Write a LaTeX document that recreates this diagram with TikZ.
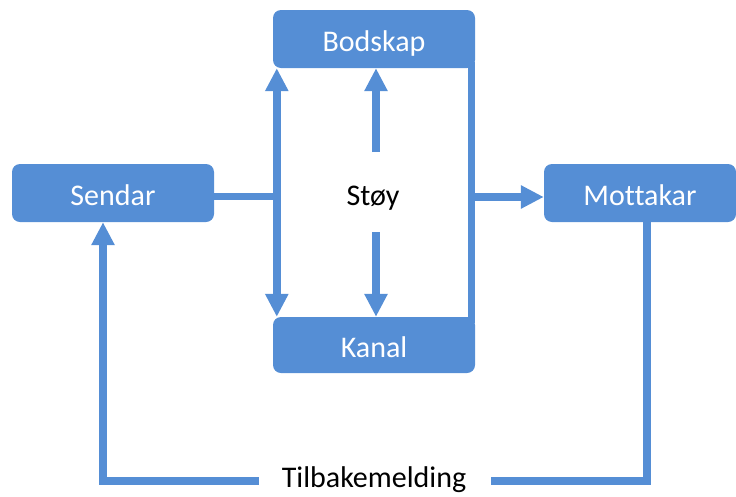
\documentclass[tikz,border=0pt]{standalone}
\usepackage{fontspec}
\setmainfont[Ligatures={NoCommon,NoRare}]{Carlito}
\usetikzlibrary{arrows.meta,calc}
\definecolor{boxblue}{RGB}{85,142,213}
\tikzset{
  box/.style={rectangle, rounded corners=8pt, fill=boxblue, draw=none, text=white,
    minimum width=202pt, minimum height=58pt, inner sep=0pt, text height=25pt, text depth=0pt,
    font=\fontsize{30}{36}\selectfont},
  lbl/.style={text=black, inner sep=0pt, font=\fontsize{30}{36}\selectfont},
  conn/.style={draw=boxblue, line width=7.5pt},
  arr/.style={conn, -{Triangle[length=23pt,width=22pt]}},
  darr/.style={conn, {Triangle[length=23pt,width=22pt]}-{Triangle[length=23pt,width=22pt]}}
}
\begin{document}
\begin{tikzpicture}[x=1pt,y=-1pt]
\useasboundingbox (0,0) rectangle (736,496);
\node[box] (Sendar) at (113,193) {Sendar};
\node[box] (Bodskap) at (374,39) {Bodskap};
\node[box, minimum height=56pt] (Kanal) at (374,345) {Kanal};
\node[box, minimum width=192pt] (Mottakar) at (640,193) {Mottakar};
\node[lbl] (Stoy) at (373,198) {Støy};
\node[lbl, anchor=base] (Tilb) at (374,487) {Tilbakemelding};
% left double arrow
\coordinate (Ltop) at ($(Bodskap.south west)+(4,0)$);
\coordinate (Lbot) at ($(Kanal.north west)+(4,0)$);
\draw[darr] (Ltop) -- (Lbot);
\draw[conn] (Sendar.east |- 0,196.5) -- (Ltop |- 0,196.5);
% right line
\coordinate (Rtop) at ($(Bodskap.south east)+(-3.5,-6)$);
\coordinate (Rbot) at ($(Kanal.north east)+(-3.5,6)$);
\draw[conn] (Rtop) -- (Rbot);
\draw[arr] (Rtop |- 0,197) -- (Mottakar.west |- 0,197);
% noise arrows
\draw[arr] ($(Stoy.center)+(3,-46)$) -- ($(Bodskap.south)+(2,0)$);
\draw[arr] ($(Stoy.center)+(3,34)$) -- ($(Kanal.north)+(2,0)$);
% feedback
\coordinate (Fr) at ($(Tilb.east)+(25,0)$);
\coordinate (Fl) at ($(Tilb.west)+(-23,0)$);
\draw[conn] (Mottakar.south -| 647,0) -- (647,481) -- (Fr |- 0,481);
\draw[arr] (Fl |- 0,481) -- (103,481) -- (Sendar.south -| 103,0);
\end{tikzpicture}
\end{document}
